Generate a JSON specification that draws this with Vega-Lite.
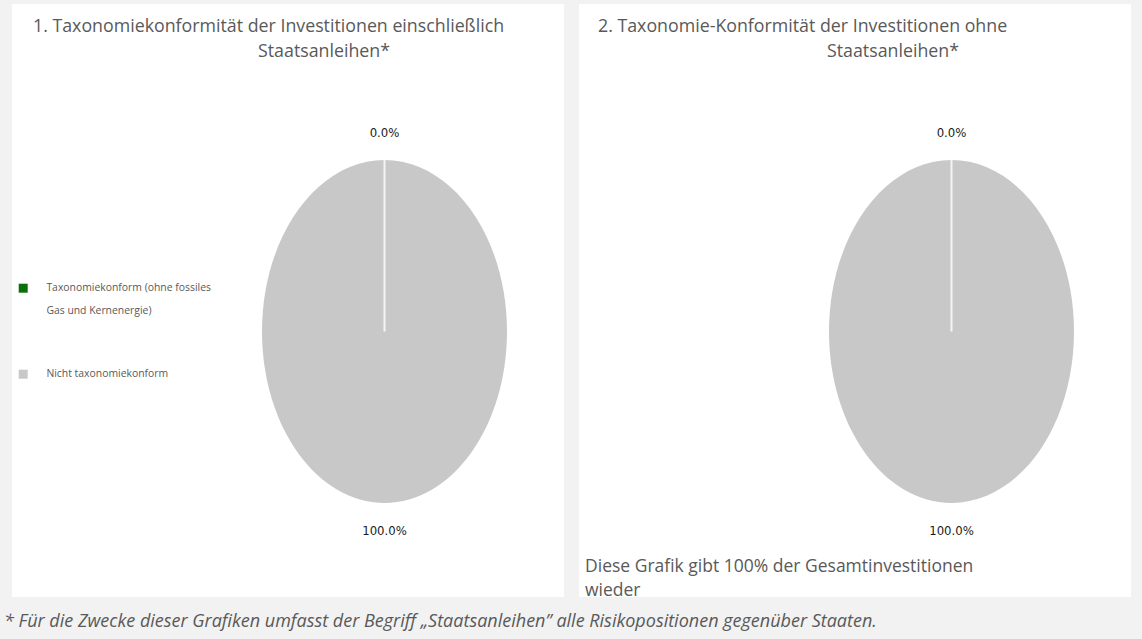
{
  "$schema": "https://vega.github.io/schema/vega-lite/v6.json",
  "background": "#f2f2f2",
  "padding": {"left": 4, "top": 4, "right": 11, "bottom": 9},
  "spacing": 15,
  "datasets": {
    "pie": [
      {"panel": 1, "category": "Taxonomiekonform (ohne fossiles Gas und Kernenergie)", "share": 0},
      {"panel": 1, "category": "Nicht taxonomiekonform", "share": 1},
      {"panel": 2, "category": "Taxonomiekonform (ohne fossiles Gas und Kernenergie)", "share": 0},
      {"panel": 2, "category": "Nicht taxonomiekonform", "share": 1}
    ]
  },
  "title": {
    "text": "* Für die Zwecke dieser Grafiken umfasst der Begriff „Staatsanleihen” alle Risikopositionen gegenüber Staaten.",
    "orient": "bottom",
    "anchor": "start",
    "baseline": "top",
    "offset": 14,
    "dx": -8,
    "font": "Open Sans",
    "fontSize": 18,
    "fontStyle": "italic",
    "fontWeight": "normal",
    "color": "#595959"
  },
  "hconcat": [
    {
      "width": 552,
      "height": 593,
      "data": {"name": "pie"},
      "transform": [{"filter": "datum.panel == 1"}],
      "encoding": {
        "x": {"datum": 0.6748, "type": "quantitative", "scale": {"domain": [0, 1]}, "axis": null}
      },
      "layer": [
        {
          "transform": [{"filter": "datum.share > 0"}],
          "mark": {"type": "point", "shape": "M0,-1.4C0.5523,-1.4,1,-0.7732,1,0C1,0.7732,0.5523,1.4,0,1.4C-0.5523,1.4,-1,0.7732,-1,0C-1,-0.7732,-0.5523,-1.4,0,-1.4Z", "filled": true, "opacity": 1, "size": 60025, "strokeWidth": 0},
          "encoding": {
            "y": {"datum": 0.5523, "type": "quantitative", "scale": {"domain": [0, 1], "reverse": true}, "axis": null},
            "color": {
              "field": "category",
              "type": "nominal",
              "scale": {"domain": ["Taxonomiekonform (ohne fossiles Gas und Kernenergie)", "Nicht taxonomiekonform"], "range": ["#0a700a", "#c8c8c8"]},
              "legend": {
                "orient": "none", "legendX": 6, "legendY": 279, "title": null,
                "symbolType": "square", "symbolSize": 81, "symbolStrokeWidth": 0, "symbolOpacity": 1,
                "labelFont": "Open Sans", "labelFontSize": 10.4, "labelColor": "#595959",
                "labelOffset": 18, "labelLimit": 400, "rowPadding": 52, "labelBaseline": "middle",
                "labelExpr": "datum.label == 'Nicht taxonomiekonform' ? datum.label : ['Taxonomiekonform (ohne fossiles', 'Gas und Kernenergie)']"
              }
            }
          }
        },
        {
          "transform": [{"filter": "datum.share == 0"}],
          "mark": {"type": "rule", "color": "#f4f4f4", "strokeWidth": 2},
          "encoding": {
            "y": {"datum": 0.5523, "type": "quantitative", "scale": {"domain": [0, 1], "reverse": true}, "axis": null},
            "y2": {"datum": 0.2631}
          }
        },
        {
          "transform": [{"filter": "datum.share == 0"}],
          "mark": {"type": "text", "font": "DejaVu Sans Condensed, Roboto, sans-serif", "fontSize": 13, "color": "#1a1a1a", "baseline": "middle", "align": "center"},
          "encoding": {
            "y": {"datum": 0.2175, "type": "quantitative", "scale": {"domain": [0, 1], "reverse": true}, "axis": null},
            "text": {"field": "share", "type": "quantitative", "format": ".1%"}
          }
        },
        {
          "transform": [{"filter": "datum.share > 0"}],
          "mark": {"type": "text", "font": "DejaVu Sans Condensed, Roboto, sans-serif", "fontSize": 13, "color": "#1a1a1a", "baseline": "middle", "align": "center"},
          "encoding": {
            "y": {"datum": 0.8887, "type": "quantitative", "scale": {"domain": [0, 1], "reverse": true}, "axis": null},
            "text": {"field": "share", "type": "quantitative", "format": ".1%"}
          }
        },
        {
          "transform": [{"filter": "datum.share > 0"}],
          "mark": {"type": "text", "text": "1. Taxonomiekonformität der Investitionen einschließlich", "font": "Open Sans", "fontSize": 17.8, "color": "#595959", "baseline": "middle", "align": "left"},
          "encoding": {
            "x": {"datum": 0.038, "type": "quantitative", "scale": {"domain": [0, 1]}, "axis": null},
            "y": {"datum": 0.0388, "type": "quantitative", "scale": {"domain": [0, 1], "reverse": true}, "axis": null}
          }
        },
        {
          "transform": [{"filter": "datum.share > 0"}],
          "mark": {"type": "text", "text": "Staatsanleihen*", "font": "Open Sans", "fontSize": 17.8, "color": "#595959", "baseline": "middle", "align": "left"},
          "encoding": {
            "x": {"datum": 0.4457, "type": "quantitative", "scale": {"domain": [0, 1]}, "axis": null},
            "y": {"datum": 0.0809, "type": "quantitative", "scale": {"domain": [0, 1], "reverse": true}, "axis": null}
          }
        }
      ]
    },
    {
      "width": 552,
      "height": 593,
      "data": {"name": "pie"},
      "transform": [{"filter": "datum.panel == 2"}],
      "encoding": {
        "x": {"datum": 0.6748, "type": "quantitative", "scale": {"domain": [0, 1]}, "axis": null}
      },
      "layer": [
        {
          "transform": [{"filter": "datum.share > 0"}],
          "mark": {"type": "point", "shape": "M0,-1.4C0.5523,-1.4,1,-0.7732,1,0C1,0.7732,0.5523,1.4,0,1.4C-0.5523,1.4,-1,0.7732,-1,0C-1,-0.7732,-0.5523,-1.4,0,-1.4Z", "filled": true, "opacity": 1, "size": 60025, "strokeWidth": 0},
          "encoding": {
            "y": {"datum": 0.5523, "type": "quantitative", "scale": {"domain": [0, 1], "reverse": true}, "axis": null},
            "color": {
              "field": "category",
              "type": "nominal",
              "scale": {"domain": ["Taxonomiekonform (ohne fossiles Gas und Kernenergie)", "Nicht taxonomiekonform"], "range": ["#0a700a", "#c8c8c8"]},
              "legend": {
                "orient": "none", "legendX": 6, "legendY": 279, "title": null,
                "symbolType": "square", "symbolSize": 81, "symbolStrokeWidth": 0, "symbolOpacity": 1,
                "labelFont": "Open Sans", "labelFontSize": 10.4, "labelColor": "#595959",
                "labelOffset": 18, "labelLimit": 400, "rowPadding": 52, "labelBaseline": "middle",
                "labelExpr": "datum.label == 'Nicht taxonomiekonform' ? datum.label : ['Taxonomiekonform (ohne fossiles', 'Gas und Kernenergie)']"
              }
            }
          }
        },
        {
          "transform": [{"filter": "datum.share == 0"}],
          "mark": {"type": "rule", "color": "#f4f4f4", "strokeWidth": 2},
          "encoding": {
            "y": {"datum": 0.5523, "type": "quantitative", "scale": {"domain": [0, 1], "reverse": true}, "axis": null},
            "y2": {"datum": 0.2631}
          }
        },
        {
          "transform": [{"filter": "datum.share == 0"}],
          "mark": {"type": "text", "font": "DejaVu Sans Condensed, Roboto, sans-serif", "fontSize": 13, "color": "#1a1a1a", "baseline": "middle", "align": "center"},
          "encoding": {
            "y": {"datum": 0.2175, "type": "quantitative", "scale": {"domain": [0, 1], "reverse": true}, "axis": null},
            "text": {"field": "share", "type": "quantitative", "format": ".1%"}
          }
        },
        {
          "transform": [{"filter": "datum.share > 0"}],
          "mark": {"type": "text", "font": "DejaVu Sans Condensed, Roboto, sans-serif", "fontSize": 13, "color": "#1a1a1a", "baseline": "middle", "align": "center"},
          "encoding": {
            "y": {"datum": 0.8887, "type": "quantitative", "scale": {"domain": [0, 1], "reverse": true}, "axis": null},
            "text": {"field": "share", "type": "quantitative", "format": ".1%"}
          }
        },
        {
          "transform": [{"filter": "datum.share > 0"}],
          "mark": {"type": "text", "text": "2. Taxonomie-Konformität der Investitionen ohne", "font": "Open Sans", "fontSize": 17.8, "color": "#595959", "baseline": "middle", "align": "left"},
          "encoding": {
            "x": {"datum": 0.0344, "type": "quantitative", "scale": {"domain": [0, 1]}, "axis": null},
            "y": {"datum": 0.0388, "type": "quantitative", "scale": {"domain": [0, 1], "reverse": true}, "axis": null}
          }
        },
        {
          "transform": [{"filter": "datum.share > 0"}],
          "mark": {"type": "text", "text": "Staatsanleihen*", "font": "Open Sans", "fontSize": 17.8, "color": "#595959", "baseline": "middle", "align": "left"},
          "encoding": {
            "x": {"datum": 0.4493, "type": "quantitative", "scale": {"domain": [0, 1]}, "axis": null},
            "y": {"datum": 0.0809, "type": "quantitative", "scale": {"domain": [0, 1], "reverse": true}, "axis": null}
          }
        },
        {
          "transform": [{"filter": "datum.share > 0"}],
          "mark": {"type": "text", "text": ["Diese Grafik gibt 100% der Gesamtinvestitionen", "wieder"], "font": "Open Sans", "fontSize": 17.5, "color": "#595959", "baseline": "top", "align": "left", "lineHeight": 24},
          "encoding": {
            "x": {"datum": 0.0109, "type": "quantitative", "scale": {"domain": [0, 1]}, "axis": null},
            "y": {"datum": 0.9334, "type": "quantitative", "scale": {"domain": [0, 1], "reverse": true}, "axis": null}
          }
        }
      ]
    }
  ],
  "config": {
    "view": {"fill": "white", "stroke": null},
    "style": {"guide-label": {"lineHeight": 23}}
  }
}
